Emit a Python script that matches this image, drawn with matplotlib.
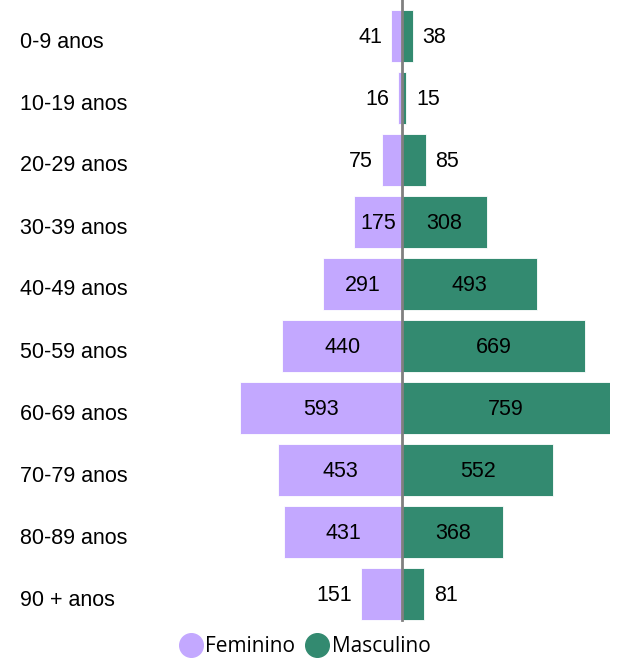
import matplotlib
matplotlib.use('Agg')
import matplotlib.pyplot as plt
from matplotlib.lines import Line2D

plt.rcParams['font.family'] = ['Liberation Sans', 'DejaVu Sans']

faixas = ['0-9 anos', '10-19 anos', '20-29 anos', '30-39 anos', '40-49 anos',
          '50-59 anos', '60-69 anos', '70-79 anos', '80-89 anos', '90 + anos']
feminino = [41, 16, 75, 175, 291, 440, 593, 453, 431, 151]
masculino = [38, 15, 85, 308, 493, 669, 759, 552, 368, 81]

cor_fem = '#C3A8FF'
cor_masc = '#338A70'

W, H = 619, 659
fig = plt.figure(figsize=(W / 100, H / 100), dpi=100)
# axes in pixel coordinates: x 240..610, y 5..625 (from top)
ax = fig.add_axes([240 / W, 1 - 625 / H, 370 / W, 620 / H])

ys = list(range(len(faixas)))
ax.barh(ys, [-v for v in feminino], height=0.84, color=cor_fem, edgecolor='white', linewidth=0.6)
ax.barh(ys, masculino, height=0.84, color=cor_masc, edgecolor='white', linewidth=0.6)

ax.set_xlim(-593, 759)
ax.set_ylim(9.5, -0.5)
ax.plot([0, 0], [-0.58, 9.42], color='#808080', linewidth=2, zorder=5, clip_on=False)
ax.axis('off')

fs = 15.5
for y, f, m in zip(ys, feminino, masculino):
    yl = y - 0.02
    if f >= 170:
        ax.text(-f / 2, yl, str(f), ha='center', va='center_baseline', fontsize=fs, color='black')
    else:
        ax.annotate(str(f), xy=(-f, yl), xytext=(-6.5, 0), textcoords='offset points',
                    ha='right', va='center_baseline', fontsize=fs, color='black')
    if m >= 170:
        ax.text(m / 2, yl, str(m), ha='center', va='center_baseline', fontsize=fs, color='black')
    else:
        ax.annotate(str(m), xy=(m, yl), xytext=(7, 0), textcoords='offset points',
                    ha='left', va='center_baseline', fontsize=fs, color='black')

for y, lab in zip(ys, faixas):
    yp = 36 + 62 * y
    fig.text(20 / W, 1 - (yp + 6) / H, lab, ha='left', va='center', fontsize=15.5)

handles = [
    Line2D([0], [0], marker='o', linestyle='none', markersize=17,
           markerfacecolor=cor_fem, markeredgecolor=cor_fem, label='Feminino'),
    Line2D([0], [0], marker='o', linestyle='none', markersize=17,
           markerfacecolor=cor_masc, markeredgecolor=cor_masc, label='Masculino'),
]
fig.legend(handles=handles, loc='center', bbox_to_anchor=(300 / W, 1 - 647 / H),
           ncol=2, frameon=False, handletextpad=-0.3, columnspacing=0.05,
           prop={'family': ['Open Sans', 'DejaVu Sans'], 'size': 15})

fig.savefig('out.png', dpi=100, facecolor='white')
plt.close()
